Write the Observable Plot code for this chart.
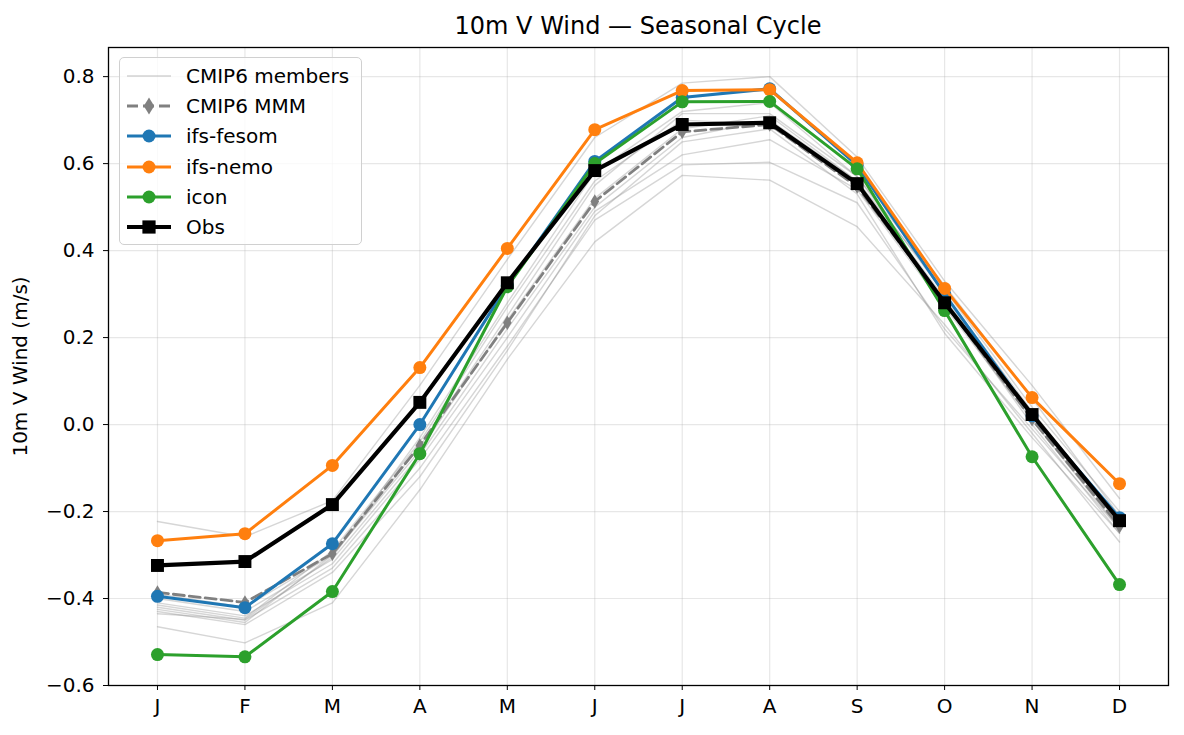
<!DOCTYPE html>
<html>
<head>
<meta charset="utf-8">
<script src="https://cdn.jsdelivr.net/npm/d3@7"></script>
<script src="https://cdn.jsdelivr.net/npm/@observablehq/plot@0.6"></script>
<style>
  html, body { margin: 0; padding: 0; background: #fff; }
  body { width: 1184px; height: 735px; position: relative; font-family: "DejaVu Sans", sans-serif; overflow: hidden; }
  #title { position: absolute; left: 108px; width: 1060px; top: 12px; text-align: center; font-size: 24px; color: #000; }
  #chart { position: absolute; left: 0; top: 40px; }
  #legend { position: absolute; left: 119px; top: 57px; width: 243px; height: 188px; box-sizing: border-box;
            border: 1.3px solid #d0d0d0; border-radius: 5px; background: rgba(255,255,255,0.8); }
  .row { position: absolute; left: 0; height: 30px; width: 240px; }
  .row svg { position: absolute; left: 6px; top: 0; }
  .row span { position: absolute; left: 66px; top: 2px; font-size: 20px; line-height: 24px; color: #000; white-space: nowrap; }
</style>
</head>
<body>
<div id="title">10m V Wind — Seasonal Cycle</div>
<div id="chart"></div>
<div id="legend"></div>
<script>
const months = ["J","F","M","A","M","J","J","A","S","O","N","D"];
const yTicks = [-0.6, -0.4, -0.2, 0.0, 0.2, 0.4, 0.6, 0.8];

const obs      = [-0.324, -0.315, -0.184, 0.051, 0.326, 0.584, 0.690, 0.694, 0.554, 0.280, 0.023, -0.221];
const ifsNemo  = [-0.267, -0.251, -0.094, 0.131, 0.405, 0.678, 0.768, 0.770, 0.602, 0.313, 0.062, -0.136];
const ifsFesom = [-0.395, -0.421, -0.274, 0.000, 0.320, 0.605, 0.752, 0.772, 0.596, 0.300, 0.020, -0.214];
const icon     = [-0.529, -0.534, -0.384, -0.067, 0.317, 0.600, 0.742, 0.743, 0.588, 0.262, -0.074, -0.368];
const cmip6MMM = [-0.386, -0.409, -0.297, -0.048, 0.234, 0.513, 0.673, 0.690, 0.547, 0.280, 0.012, -0.234];

const member1  = [-0.223, -0.258, -0.175, 0.090, 0.380, 0.660, 0.785, 0.800, 0.615, 0.330, 0.090, -0.170];
const member2  = [-0.465, -0.502, -0.410, -0.150, 0.150, 0.420, 0.573, 0.562, 0.455, 0.230, -0.020, -0.270];
const member3  = [-0.390, -0.420, -0.300, -0.050, 0.250, 0.550, 0.715, 0.715, 0.570, 0.300, 0.030, -0.220];
const member4  = [-0.400, -0.430, -0.310, -0.070, 0.220, 0.500, 0.660, 0.700, 0.560, 0.290, 0.020, -0.230];
const member5  = [-0.410, -0.440, -0.320, -0.080, 0.200, 0.490, 0.620, 0.655, 0.540, 0.270, 0.010, -0.240];
const member6  = [-0.415, -0.445, -0.290, -0.040, 0.270, 0.560, 0.700, 0.690, 0.550, 0.280, 0.000, -0.250];
const member7  = [-0.420, -0.450, -0.330, -0.100, 0.180, 0.470, 0.597, 0.603, 0.510, 0.220, -0.010, -0.240];
const member8  = [-0.425, -0.455, -0.300, -0.060, 0.240, 0.520, 0.680, 0.710, 0.560, 0.310, 0.040, -0.200];
const member9  = [-0.430, -0.460, -0.340, -0.120, 0.170, 0.480, 0.650, 0.680, 0.530, 0.210, -0.030, -0.250];
const member10 = [-0.435, -0.448, -0.305, -0.030, 0.280, 0.580, 0.720, 0.740, 0.570, 0.320, 0.060, -0.210];
const members = [member1, member2, member3, member4, member5, member6, member7, member8, member9, member10];

const idx = d3.range(12);
const toRows = (arr, name) => arr.map((v, i) => ({m: i, v, name}));
const memberRows = members.flatMap((arr, k) => toRows(arr, "member" + k));

const thinDiamond = {
  draw(ctx, size) {
    const r = Math.sqrt(size / Math.PI);
    ctx.moveTo(0, -r * 1.2);
    ctx.lineTo(r * 0.72, 0);
    ctx.lineTo(0, r * 1.2);
    ctx.lineTo(-r * 0.72, 0);
    ctx.closePath();
  }
};

const C = {fesom: "#1f77b4", nemo: "#ff7f0e", icon: "#2ca02c", obs: "#000000", mmm: "#808080"};

const chart = Plot.plot({
  width: 1184,
  height: 695,
  marginTop: 7,
  marginBottom: 50,
  marginLeft: 108,
  marginRight: 16,
  style: {fontFamily: "DejaVu Sans", fontSize: "20px", color: "#000", background: "transparent"},
  x: {domain: [-0.56, 11.56], ticks: idx, tickFormat: i => months[i], label: null, tickSize: 5, tickPadding: 8},
  y: {domain: [-0.6, 0.867], ticks: yTicks, tickFormat: d3.format(".1f"), label: "10m V Wind (m/s)",
      labelAnchor: "center", labelArrow: "none", labelOffset: 96, tickSize: 5, tickPadding: 9},
  marks: [
    Plot.gridX(idx, {stroke: "#b0b0b0", strokeOpacity: 0.3, strokeWidth: 1.2}),
    Plot.gridY(yTicks, {stroke: "#b0b0b0", strokeOpacity: 0.3, strokeWidth: 1.2}),
    Plot.line(memberRows, {x: "m", y: "v", z: "name", stroke: "#808080", strokeOpacity: 0.32, strokeWidth: 1.4}),
    Plot.line(toRows(cmip6MMM, "mmm"), {x: "m", y: "v", stroke: C.mmm, strokeWidth: 2.8, strokeDasharray: "11,5"}),
    Plot.dot(toRows(cmip6MMM, "mmm"), {x: "m", y: "v", fill: C.mmm, r: 6, symbol: thinDiamond, stroke: "none"}),
    Plot.line(toRows(ifsFesom, "fesom"), {x: "m", y: "v", stroke: C.fesom, strokeWidth: 3}),
    Plot.dot(toRows(ifsFesom, "fesom"), {x: "m", y: "v", fill: C.fesom, r: 6.5, stroke: "none"}),
    Plot.line(toRows(ifsNemo, "nemo"), {x: "m", y: "v", stroke: C.nemo, strokeWidth: 3}),
    Plot.dot(toRows(ifsNemo, "nemo"), {x: "m", y: "v", fill: C.nemo, r: 6.5, stroke: "none"}),
    Plot.line(toRows(icon, "icon"), {x: "m", y: "v", stroke: C.icon, strokeWidth: 3}),
    Plot.dot(toRows(icon, "icon"), {x: "m", y: "v", fill: C.icon, r: 6.5, stroke: "none"}),
    Plot.line(toRows(obs, "obs"), {x: "m", y: "v", stroke: C.obs, strokeWidth: 4.2}),
    Plot.dot(toRows(obs, "obs"), {x: "m", y: "v", fill: C.obs, r: 7.3, symbol: "square", stroke: "none"}),
    Plot.frame({stroke: "#000", strokeWidth: 1.3})
  ]
});
document.getElementById("chart").appendChild(chart);

// legend
const legendItems = [
  {label: "CMIP6 members", color: "#808080", opacity: 0.35, width: 1.4, dash: null, marker: null},
  {label: "CMIP6 MMM", color: C.mmm, opacity: 1, width: 2.8, dash: "11,5", marker: "diamond"},
  {label: "ifs-fesom", color: C.fesom, opacity: 1, width: 3, dash: null, marker: "circle"},
  {label: "ifs-nemo", color: C.nemo, opacity: 1, width: 3, dash: null, marker: "circle"},
  {label: "icon", color: C.icon, opacity: 1, width: 3, dash: null, marker: "circle"},
  {label: "Obs", color: C.obs, opacity: 1, width: 4.2, dash: null, marker: "square"}
];
const legend = d3.select("#legend");
legendItems.forEach((it, i) => {
  const row = legend.append("div").attr("class", "row").style("top", (4 + i * 30.2) + "px");
  const svg = row.append("svg").attr("width", 50).attr("height", 30);
  const cy = 14;
  svg.append("line").attr("x1", 1).attr("x2", 45).attr("y1", cy).attr("y2", cy)
    .attr("stroke", it.color).attr("stroke-opacity", it.opacity).attr("stroke-width", it.width)
    .attr("stroke-dasharray", it.dash);
  if (it.marker === "circle") svg.append("circle").attr("cx", 23).attr("cy", cy).attr("r", 6.5).attr("fill", it.color);
  if (it.marker === "square") svg.append("rect").attr("x", 23 - 6.6).attr("y", cy - 6.6).attr("width", 13.2).attr("height", 13.2).attr("fill", it.color);
  if (it.marker === "diamond") svg.append("path").attr("d", `M23,${cy-8.5}L28.2,${cy}L23,${cy+8.5}L17.8,${cy}Z`).attr("fill", it.color);
  row.append("span").text(it.label);
});
</script>
</body>
</html>
